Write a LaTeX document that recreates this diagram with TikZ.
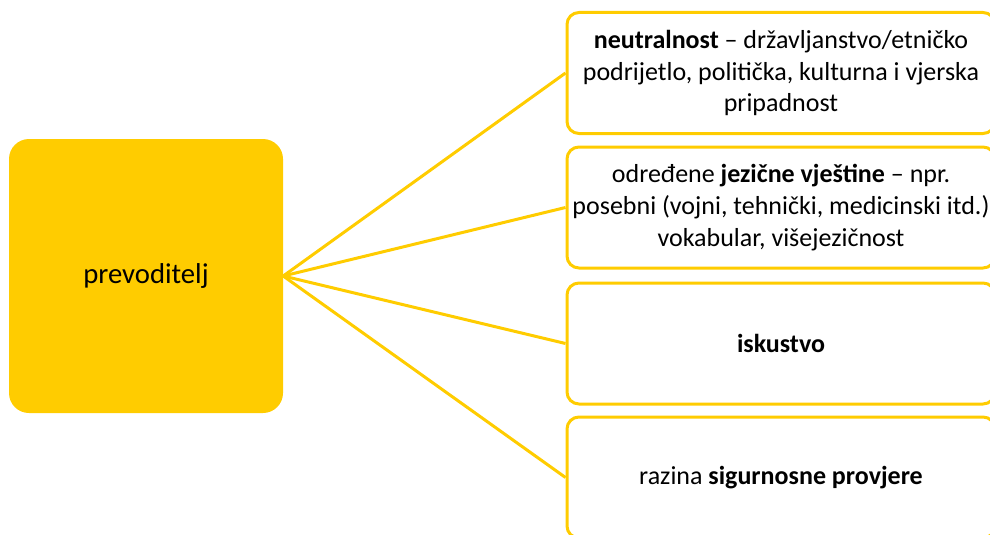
\documentclass[tikz,border=0pt]{standalone}
\usepackage{fontspec}
\setmainfont{Carlito}
\definecolor{gold}{HTML}{FFCC00}
\begin{document}
\begin{tikzpicture}[x=1pt,y=-1pt,
  centre/.style={rectangle, rounded corners=20pt, fill=gold, minimum width=274pt, minimum height=274pt, inner sep=0pt, font=\fontsize{28.7}{34}\selectfont},
  item/.style={rectangle, rounded corners=12pt, draw=gold, line width=3pt, fill=white, minimum width=428pt, minimum height=121pt, inner sep=0pt, align=center, font=\fontsize{26}{31.8}\selectfont},
  link/.style={draw=gold, line width=3pt}]
\useasboundingbox (0,0) rectangle (990,535);
\begin{scope}
\clip (0,0) rectangle (990,535);
\node[centre] (L) at (146,276) {prevoditelj};
\node[item] (B1) at (781,73) {\textbf{neutralnost} – državljanstvo/etničko\\podrijetlo, politička, kulturna i vjerska\\pripadnost};
\node[item] (B2) at (781,207.5) {određene \textbf{jezične vještine} – npr.\\posebni (vojni, tehnički, medicinski itd.)\\vokabular, višejezičnost};
\node[item] (B3) at (781,343.5) {\textbf{iskustvo}};
\node[item] (B4) at (781,477.5) {razina \textbf{sigurnosne provjere}};
\draw[link] (L.east) -- (B1.west);
\draw[link] (L.east) -- (B2.west);
\draw[link] (L.east) -- (B3.west);
\draw[link] (L.east) -- (B4.west);
\end{scope}
\end{tikzpicture}
\end{document}
